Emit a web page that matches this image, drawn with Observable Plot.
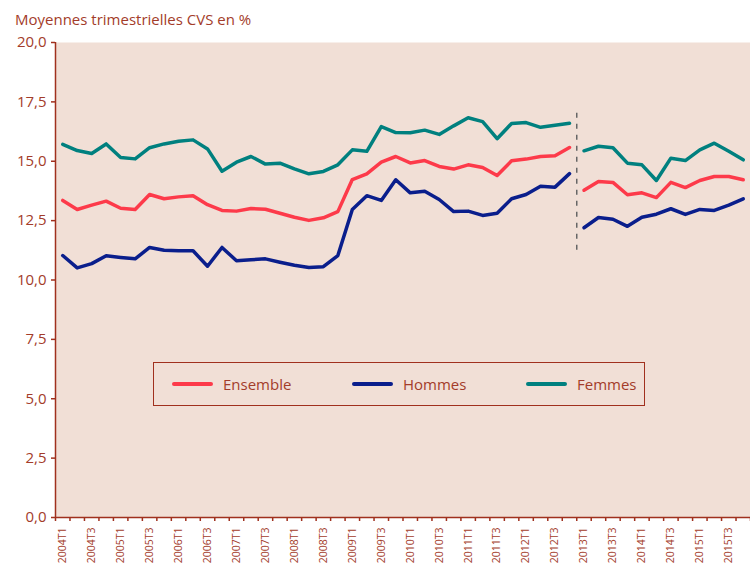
<!DOCTYPE html>
<html>
<head>
<meta charset="utf-8">
<script src="https://cdn.jsdelivr.net/npm/d3@7"></script>
<script src="https://cdn.jsdelivr.net/npm/@observablehq/plot@0.6"></script>
<style>
  html, body { margin: 0; padding: 0; background: #ffffff; }
  #wrap { position: relative; width: 750px; height: 565px; overflow: hidden; font-family: "Open Sans", sans-serif; }
  #title { height: 36px; box-sizing: border-box; padding: 9px 0 0 15px; font-size: 15px; line-height: 20px; color: #a33c2a; }
  #legend { position: absolute; left: 153px; top: 362px; width: 492px; height: 44px; box-sizing: border-box; border: 1.5px solid #a0301e; }
  .item { position: absolute; top: 0; height: 41px; display: flex; align-items: center; font-size: 15px; color: #a33c2a; }
  .sw { width: 41px; height: 4px; border-radius: 2px; margin-right: 10px; }
</style>
</head>
<body>
<div id="wrap">
  <div id="title">Moyennes trimestrielles CVS en %</div>
  <div id="chart"></div>
  <div id="legend"></div>
</div>
<script>
const quarters = [
  "2004T1","2004T2","2004T3","2004T4","2005T1","2005T2","2005T3","2005T4",
  "2006T1","2006T2","2006T3","2006T4","2007T1","2007T2","2007T3","2007T4",
  "2008T1","2008T2","2008T3","2008T4","2009T1","2009T2","2009T3","2009T4",
  "2010T1","2010T2","2010T3","2010T4","2011T1","2011T2","2011T3","2011T4",
  "2012T1","2012T2","2012T3","2012T4","2013T1","2013T2","2013T3","2013T4",
  "2014T1","2014T2","2014T3","2014T4","2015T1","2015T2","2015T3","2015T4"
];
const labelledQuarters = [
  "2004T1","2004T3","2005T1","2005T3","2006T1","2006T3","2007T1","2007T3",
  "2008T1","2008T3","2009T1","2009T3","2010T1","2010T3","2011T1","2011T3",
  "2012T1","2012T3","2013T1","2013T3","2014T1","2014T3","2015T1","2015T3"
];
const seriesNames = ["Ensemble", "Hommes", "Femmes"];
const seriesColors = ["#fd3a4a", "#0a1e8c", "#00807f"];

const ensemble = [
  13.35, 12.97, 13.15, 13.32, 13.02, 12.97, 13.60, 13.42, 13.50, 13.55, 13.17, 12.93, 12.90, 13.01, 12.98, 12.81,
  12.64, 12.51, 12.62, 12.88, 14.23, 14.47, 14.96, 15.20, 14.93, 15.03, 14.78, 14.67, 14.85, 14.74, 14.40, 15.02,
  15.09, 15.20, 15.23, 15.58,
  13.78, 14.15, 14.11, 13.59, 13.67, 13.47, 14.11, 13.89, 14.19, 14.36, 14.36, 14.22
];
const hommes = [
  11.03, 10.51, 10.69, 11.02, 10.95, 10.89, 11.37, 11.25, 11.23, 11.23, 10.58, 11.37, 10.81, 10.85, 10.89, 10.75,
  10.62, 10.53, 10.56, 11.03, 12.97, 13.55, 13.35, 14.22, 13.67, 13.74, 13.39, 12.88, 12.90, 12.72, 12.81, 13.42,
  13.60, 13.95, 13.91, 14.48,
  12.20, 12.63, 12.56, 12.26, 12.64, 12.77, 13.00, 12.76, 12.97, 12.93, 13.15, 13.42
];
const femmes = [
  15.71, 15.45, 15.33, 15.73, 15.16, 15.10, 15.57, 15.73, 15.84, 15.90, 15.52, 14.58, 14.96, 15.20, 14.88, 14.92,
  14.68, 14.47, 14.57, 14.85, 15.48, 15.42, 16.46, 16.21, 16.20, 16.31, 16.13, 16.49, 16.83, 16.67, 15.95, 16.59,
  16.63, 16.43, 16.52, 16.60,
  15.44, 15.63, 15.57, 14.92, 14.85, 14.19, 15.13, 15.03, 15.48, 15.76, 15.42, 15.06
];
const yTicks = [0, 2.5, 5, 7.5, 10, 12.5, 15, 17.5, 20];
const breakAfter = "2012T4";
const breakYRange = [11.25, 17.25];

const textColor = "#a33c2a";
const axisColor = "#a0301e";
const bgColor = "#f1dfd6";

const breakIdx = quarters.indexOf(breakAfter);
const valuesBySeries = [ensemble, hommes, femmes];
const rows = [];
seriesNames.forEach((s, k) => {
  valuesBySeries[k].forEach((v, i) => {
    rows.push({i, v, series: s, key: s + (i > breakIdx ? "-b" : "-a")});
  });
});
const boundaries = d3.range(quarters.length + 1).map(i => i - 0.5);
const labelIdx = labelledQuarters.map(q => quarters.indexOf(q));

const chart = Plot.plot({
  width: 750,
  height: 529,
  marginTop: 6,
  marginLeft: 55,
  marginRight: 0,
  marginBottom: 48,
  style: { background: "transparent", fontFamily: "'Open Sans', sans-serif", overflow: "visible" },
  x: { type: "linear", domain: [-0.5, quarters.length - 0.5], axis: null },
  y: { domain: [0, 20], axis: null },
  color: { domain: seriesNames, range: seriesColors },
  marks: [
    Plot.frame({ fill: bgColor, stroke: null }),
    Plot.axisY({ ticks: yTicks, tickFormat: d => d.toFixed(1).replace(".", ","), tickSize: 4, tickPadding: 5,
                 stroke: axisColor, strokeWidth: 1.5, fill: textColor, fontSize: 15, label: null }),
    Plot.axisX({ ticks: boundaries, tickFormat: () => "", tickSize: 4, stroke: axisColor, strokeWidth: 1.5, label: null }),
    Plot.axisX({ ticks: labelIdx, tickFormat: i => quarters[i], tickSize: 0, tickPadding: 10, tickRotate: -90,
                 fill: textColor, fontSize: 10.5, label: null }),
    Plot.ruleY([0], { stroke: axisColor, strokeWidth: 1.5 }),
    Plot.ruleX([-0.5], { stroke: axisColor, strokeWidth: 1.5 }),
    Plot.ruleX([breakIdx + 0.5], { y1: breakYRange[0], y2: breakYRange[1], stroke: "#666666", strokeWidth: 1.5, strokeDasharray: "5,6" }),
    Plot.line(rows, { x: "i", y: "v", z: "key", stroke: "series", strokeWidth: 3.5, strokeLinejoin: "round", strokeLinecap: "round" })
  ]
});
document.getElementById("chart").appendChild(chart);

const legend = document.getElementById("legend");
const legendLeft = [18, 198, 372];
seriesNames.forEach((s, k) => {
  const it = document.createElement("div");
  it.className = "item";
  it.style.left = legendLeft[k] + "px";
  const sw = document.createElement("div");
  sw.className = "sw";
  sw.style.background = seriesColors[k];
  const tx = document.createElement("span");
  tx.textContent = s;
  it.appendChild(sw);
  it.appendChild(tx);
  legend.appendChild(it);
});
</script>
</body>
</html>
